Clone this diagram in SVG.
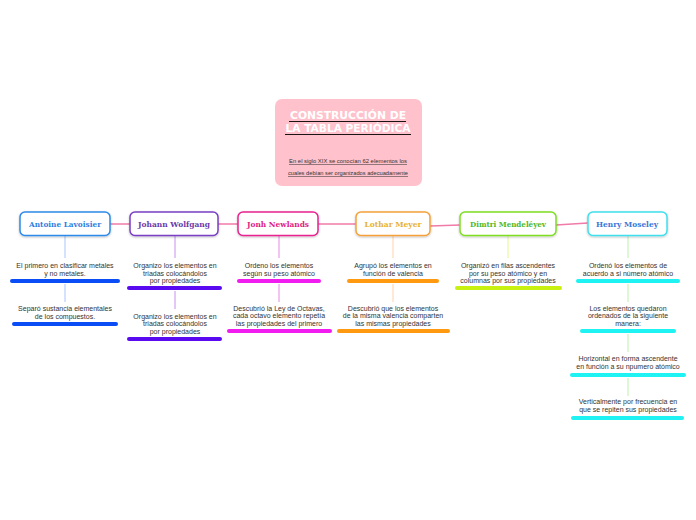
<svg xmlns="http://www.w3.org/2000/svg" width="696" height="520" viewBox="0 0 696 520">
<defs>
<filter id="sh" x="-20%" y="-30%" width="140%" height="160%"><feDropShadow dx="0" dy="1" stdDeviation="1" flood-opacity="0.25"/></filter>
</defs>
<style>
.nd{fill:#fff;stroke-width:1.5;filter:url(#sh)}
.nt{font-family:"DejaVu Serif","Liberation Serif",serif;font-weight:bold;font-size:8px;text-anchor:middle}
.bt{font-family:"Liberation Sans",Arial,sans-serif;font-size:7px;fill:#333;text-anchor:middle}
.bar{stroke-width:4;stroke-linecap:round;fill:none}
.vl{stroke-width:1;fill:none}
.cn{stroke:#f07aa8;stroke-width:1.5;fill:none}
</style>
<rect width="696" height="520" fill="#fff"/>
<g id="connectors">
<line class="cn" x1="110" y1="224" x2="130" y2="224"/>
<line class="cn" x1="218" y1="224" x2="238" y2="224"/>
<line class="cn" x1="318" y1="224" x2="356" y2="224"/>
<line class="cn" x1="430" y1="226" x2="460" y2="225"/>
<line class="cn" x1="556" y1="225" x2="588" y2="223"/>
<g stroke="#a9c4ff" class="vl"><line x1="65" y1="236" x2="65" y2="258"/><line x1="65" y1="284" x2="65" y2="302"/></g>
<g stroke="#c690f0" class="vl"><line x1="175" y1="236" x2="175" y2="258"/><line x1="175" y1="291" x2="175" y2="309"/></g>
<g stroke="#e48ae4" class="vl"><line x1="279" y1="236" x2="279" y2="258"/><line x1="279" y1="284" x2="279" y2="302"/></g>
<g stroke="#ffd3a8" class="vl"><line x1="393" y1="236" x2="393" y2="258"/><line x1="393" y1="284" x2="393" y2="302"/></g>
<g stroke="#e6f590" class="vl"><line x1="508" y1="236" x2="508" y2="258"/></g>
<g stroke="#bff0a8" class="vl"><line x1="628" y1="236" x2="628" y2="258"/><line x1="628" y1="284" x2="628" y2="302"/><line x1="628" y1="334" x2="628" y2="352"/><line x1="628" y1="378" x2="628" y2="396"/></g>
</g>
<g id="central">
<rect x="275" y="99" width="147" height="87" rx="7" fill="#ffc2cc"/>
<text x="348" y="119" font-family="'DejaVu Sans','Liberation Sans',sans-serif" font-weight="900" font-size="10.5" fill="#fff" text-anchor="middle" textLength="116" lengthAdjust="spacingAndGlyphs">CONSTRUCCIÓN DE</text>
<line x1="289" y1="121.5" x2="406" y2="121.5" stroke="#000" stroke-width="0.9"/>
<text x="348" y="132" font-family="'DejaVu Sans','Liberation Sans',sans-serif" font-weight="900" font-size="10.5" fill="#fff" text-anchor="middle" textLength="125" lengthAdjust="spacingAndGlyphs">LA TABLA PERIÓDICA</text>
<line x1="285" y1="134.5" x2="411" y2="134.5" stroke="#000" stroke-width="0.9"/>
<text x="348" y="163" font-family="'Liberation Sans',sans-serif" font-size="5.4" fill="#333" text-anchor="middle" text-decoration="underline" textLength="118" lengthAdjust="spacingAndGlyphs">En el siglo XIX se conocían 62 elementos los </text>
<text x="348" y="175" font-family="'Liberation Sans',sans-serif" font-size="5.4" fill="#333" text-anchor="middle" text-decoration="underline" textLength="120" lengthAdjust="spacingAndGlyphs">cuales debían ser organizados adecuadamente</text>
</g>
<g id="n-lavoisier">
<rect class="nd" x="20" y="212" width="90" height="23.5" rx="5" stroke="#2d8ae8"/>
<text class="nt" x="65" y="226.5" fill="#2f7fe0" textLength="72" lengthAdjust="spacingAndGlyphs">Antoine Lavoisier</text>
</g>
<g id="n-lavoisier-1"><text class="bt" x="65" y="268">El primero en clasificar metales</text><text class="bt" x="65" y="275.5">y no metales.</text><line class="bar" x1="12" y1="281" x2="118" y2="281" stroke="#0a4cf5"/></g>
<g id="n-lavoisier-2"><text class="bt" x="65" y="311">Separó sustancia elementales</text><text class="bt" x="65" y="318.5">de los compuestos.</text><line class="bar" x1="14" y1="324" x2="116" y2="324" stroke="#0a4cf5"/></g>
<g id="n-johann">
<rect class="nd" x="130" y="212" width="88" height="23.5" rx="5" stroke="#7a3fc4"/>
<text class="nt" x="174" y="226.5" fill="#6b3aa8" textLength="72" lengthAdjust="spacingAndGlyphs">Johann Wolfgang</text>
</g>
<g id="n-johann-1"><text class="bt" x="175" y="268">Organizo los elementos en</text><text class="bt" x="175" y="275.5">triadas colocándolos</text><text class="bt" x="175" y="283">por propiedades</text><line class="bar" x1="129" y1="288" x2="220" y2="288" stroke="#5a0af0"/></g>
<g id="n-johann-2"><text class="bt" x="175" y="318.5">Organizo los elementos en</text><text class="bt" x="175" y="326">triadas colocándolos</text><text class="bt" x="175" y="333.5">por propiedades</text><line class="bar" x1="129" y1="339" x2="220" y2="339" stroke="#5a0af0"/></g>
<g id="n-newlands">
<rect class="nd" x="238" y="212" width="80" height="23.5" rx="5" stroke="#e8238f"/>
<text class="nt" x="278" y="226.5" fill="#e01c84" textLength="62" lengthAdjust="spacingAndGlyphs">Jonh Newlands</text>
</g>
<g id="n-newlands-1"><text class="bt" x="279" y="268">Ordeno los elementos</text><text class="bt" x="279" y="275.5">según su peso atómico</text><line class="bar" x1="239" y1="281" x2="319" y2="281" stroke="#f01cf0"/></g>
<g id="n-newlands-2"><text class="bt" x="279" y="310.5">Descubrió la Ley de Octavas,</text><text class="bt" x="279" y="318">cada octavo elemento repetía</text><text class="bt" x="279" y="325.5">las propiedades del primero</text><line class="bar" x1="229" y1="331" x2="330" y2="331" stroke="#f01cf0"/></g>
<g id="n-meyer">
<rect class="nd" x="356" y="212" width="74" height="23.5" rx="5" stroke="#f5a13a"/>
<text class="nt" x="393" y="226.5" fill="#e6b234" textLength="57" lengthAdjust="spacingAndGlyphs">Lothar Meyer</text>
</g>
<g id="n-meyer-1"><text class="bt" x="393" y="268">Agrupó los elementos en</text><text class="bt" x="393" y="275.5">función de valencia</text><line class="bar" x1="349" y1="281" x2="437" y2="281" stroke="#ff9a10"/></g>
<g id="n-meyer-2"><text class="bt" x="393" y="310.5">Descubrió que los elementos</text><text class="bt" x="393" y="318">de la misma valencia comparten</text><text class="bt" x="393" y="325.5">las mismas propiedades</text><line class="bar" x1="339" y1="331" x2="448" y2="331" stroke="#ff9a10"/></g>
<g id="n-mendeleyev">
<rect class="nd" x="460" y="212" width="96" height="23.5" rx="5" stroke="#7fde22"/>
<text class="nt" x="508" y="226.5" fill="#4db82c" textLength="76" lengthAdjust="spacingAndGlyphs">Dimtri Mendeléyev</text>
</g>
<g id="n-mendeleyev-1"><text class="bt" x="508" y="268">Organizó en filas ascendentes</text><text class="bt" x="508" y="275.5">por su peso atómico y en</text><text class="bt" x="508" y="283">columnas por sus propiedades</text><line class="bar" x1="457" y1="288" x2="560" y2="288" stroke="#c8f010"/></g>
<g id="n-moseley">
<rect class="nd" x="588" y="212" width="79" height="23.5" rx="5" stroke="#3fdfee"/>
<text class="nt" x="627" y="226.5" fill="#3a78d8" textLength="62" lengthAdjust="spacingAndGlyphs">Henry Moseley</text>
</g>
<g id="n-moseley-1"><text class="bt" x="628" y="268">Ordenó los elementos de</text><text class="bt" x="628" y="275.5">acuerdo a si número atómico</text><line class="bar" x1="578" y1="281" x2="678" y2="281" stroke="#1ff2f2"/></g>
<g id="n-moseley-2"><text class="bt" x="628" y="310.5">Los elementos quedaron</text><text class="bt" x="628" y="318">ordenados de la siguiente</text><text class="bt" x="628" y="325.5">manera:</text><line class="bar" x1="582" y1="331" x2="674" y2="331" stroke="#1ff2f2"/></g>
<g id="n-moseley-3"><text class="bt" x="628" y="361">Horizontal en forma ascendente</text><text class="bt" x="628" y="368.5">en función a su npumero atómico</text><line class="bar" x1="572" y1="375" x2="684" y2="375" stroke="#1ff2f2"/></g>
<g id="n-moseley-4"><text class="bt" x="628" y="404">Verticalmente por frecuencia en</text><text class="bt" x="628" y="411.5">que se repiten sus propiedades</text><line class="bar" x1="573" y1="418" x2="682" y2="418" stroke="#1ff2f2"/></g>
</svg>
